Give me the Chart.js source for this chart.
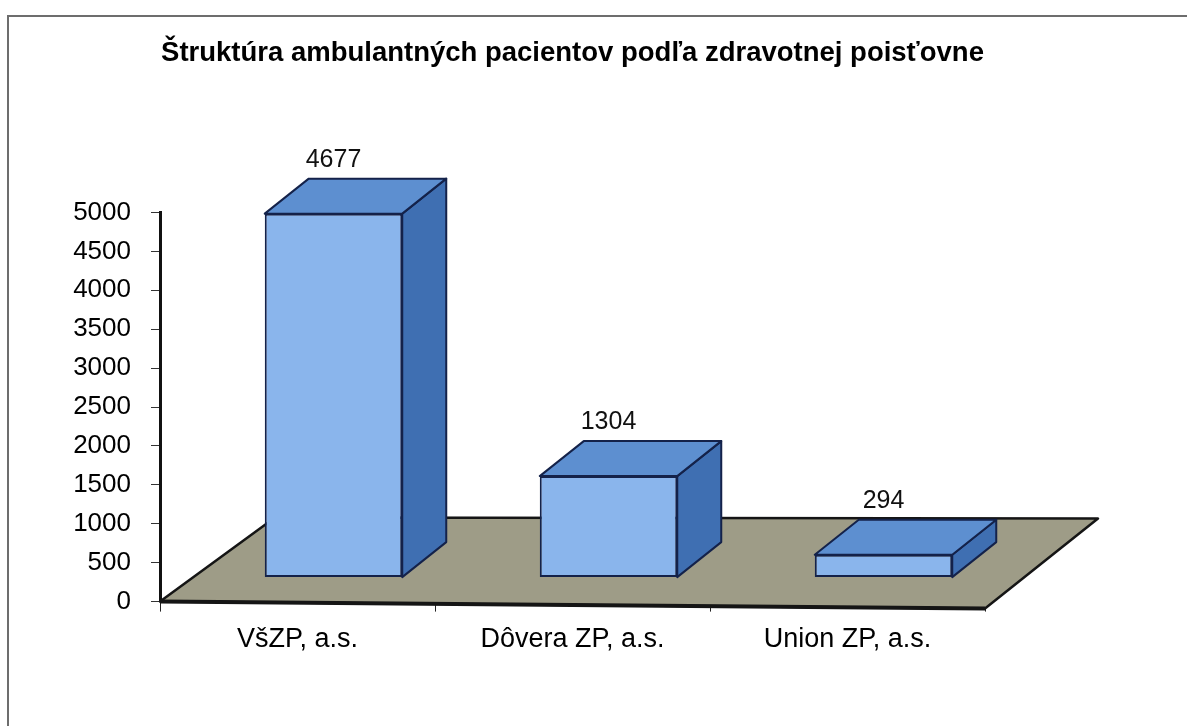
<!DOCTYPE html>
<html>
<head>
<meta charset="utf-8">
<script src="https://cdn.jsdelivr.net/npm/chart.js@4.4.1/dist/chart.umd.min.js"></script>
<style>
  html, body { margin: 0; padding: 0; background: #ffffff; }
  #wrap { width: 1187px; height: 726px; position: relative; }
</style>
</head>
<body>
<div id="wrap"><canvas id="c" width="1187" height="726"></canvas></div>
<script>
const categories = ['VšZP, a.s.', 'Dôvera ZP, a.s.', 'Union ZP, a.s.'];
const patients = [4677, 1304, 294];
const yTicks = [0, 500, 1000, 1500, 2000, 2500, 3000, 3500, 4000, 4500, 5000];
const chartTitle = 'Štruktúra ambulantných pacientov podľa zdravotnej poisťovne';

const SHIFT_X = 36, SHIFT_Y = -24;   // position of bars inside the floor depth
const DEPTH_X = 44, DEPTH_Y = -35;   // bar depth
const FLOOR_LX = 115, FLOOR_LY = -84; // floor depth (left edge)
const FLOOR_RX = 113, FLOOR_RY = -90; // floor depth (right edge)
const FLOOR_SLOPE = 7;

const frame3d = {
  id: 'frame3d',
  beforeDraw(chart) {
    const ctx = chart.ctx;
    ctx.save();
    ctx.fillStyle = '#ffffff';
    ctx.fillRect(0, 0, chart.width, chart.height);
    ctx.strokeStyle = '#6d6d6d';
    ctx.lineWidth = 2;
    ctx.beginPath();
    ctx.moveTo(8, chart.height);
    ctx.lineTo(8, 16);
    ctx.lineTo(chart.width, 16);
    ctx.stroke();
    ctx.restore();
  },
  beforeDatasetsDraw(chart) {
    const ctx = chart.ctx;
    const ca = chart.chartArea;
    const y0 = chart.scales.y.getPixelForValue(0);
    ctx.save();
    ctx.lineJoin = 'round';
    ctx.beginPath();
    ctx.moveTo(ca.left, y0);
    ctx.lineTo(ca.right, y0 + FLOOR_SLOPE);
    ctx.lineTo(ca.right + FLOOR_RX, y0 + FLOOR_SLOPE + FLOOR_RY);
    ctx.lineTo(ca.left + FLOOR_LX, y0 + FLOOR_LY);
    ctx.closePath();
    ctx.fillStyle = '#9e9c87';
    ctx.fill();
    ctx.strokeStyle = '#151515';
    ctx.lineWidth = 2.5;
    ctx.stroke();
    ctx.beginPath();
    ctx.moveTo(ca.left, y0);
    ctx.lineTo(ca.right, y0 + FLOOR_SLOPE);
    ctx.lineWidth = 4;
    ctx.stroke();
    ctx.restore();
    ctx.save();
    ctx.translate(SHIFT_X, SHIFT_Y);
  },
  afterDatasetsDraw(chart) {
    const ctx = chart.ctx;
    const meta = chart.getDatasetMeta(0);
    meta.data.forEach((bar, i) => {
      const p = bar.getProps(['x', 'y', 'base', 'width'], true);
      const xl = p.x - p.width / 2, xr = p.x + p.width / 2;
      const yt = p.y, yb = p.base;
      ctx.lineJoin = 'round';
      ctx.strokeStyle = '#14224a';
      ctx.lineWidth = 2;
      // side face
      ctx.beginPath();
      ctx.moveTo(xr, yt);
      ctx.lineTo(xr + DEPTH_X, yt + DEPTH_Y);
      ctx.lineTo(xr + DEPTH_X, yb + DEPTH_Y);
      ctx.lineTo(xr, yb);
      ctx.closePath();
      ctx.fillStyle = '#3f6fb2';
      ctx.fill();
      ctx.stroke();
      // top face
      ctx.beginPath();
      ctx.moveTo(xl, yt);
      ctx.lineTo(xl + DEPTH_X, yt + DEPTH_Y);
      ctx.lineTo(xr + DEPTH_X, yt + DEPTH_Y);
      ctx.lineTo(xr, yt);
      ctx.closePath();
      ctx.fillStyle = '#5d8fd0';
      ctx.fill();
      ctx.stroke();
      // value label
      ctx.fillStyle = '#111111';
      ctx.font = '25px "Liberation Sans", Arial, sans-serif';
      ctx.textAlign = 'center';
      ctx.textBaseline = 'middle';
      ctx.fillText(String(patients[i]), p.x, yt + DEPTH_Y - 19);
    });
    ctx.restore();
  }
};

new Chart(document.getElementById('c'), {
  type: 'bar',
  data: {
    labels: categories,
    datasets: [{
      data: patients,
      backgroundColor: '#8ab5ec',
      borderColor: '#14224a',
      borderWidth: 2,
      borderSkipped: false,
      barPercentage: 0.5,
      categoryPercentage: 1.0
    }]
  },
  options: {
    responsive: false,
    animation: false,
    devicePixelRatio: 1,
    layout: { padding: { left: 0, right: 202, top: 0, bottom: 58 } },
    plugins: {
      legend: { display: false },
      tooltip: { enabled: false },
      title: {
        display: true,
        text: chartTitle,
        fullSize: false,
        color: '#000000',
        font: { family: '"Liberation Sans", Arial, sans-serif', size: 27.5, weight: 'bold', lineHeight: 1.2 },
        padding: { top: 37, bottom: 142.5 }
      }
    },
    scales: {
      x: {
        offset: true,
        border: { display: false },
        grid: { display: true, drawOnChartArea: false, drawTicks: true, tickLength: 10, offset: true, color: '#222222', lineWidth: 1 },
        ticks: { color: '#000000', padding: 12, font: { family: '"Liberation Sans", Arial, sans-serif', size: 27 } }
      },
      y: {
        min: 0,
        max: 5000,
        afterFit(scale) { scale.width = 160; },
        afterBuildTicks(scale) { scale.ticks = yTicks.map(v => ({ value: v })); },
        border: { display: true, color: '#111111', width: 3 },
        grid: { display: true, drawOnChartArea: false, drawTicks: true, tickLength: 9, color: '#333333', lineWidth: 1 },
        ticks: {
          color: '#000000', padding: 20,
          font: { family: '"Liberation Sans", Arial, sans-serif', size: 26 },
          callback: (v) => String(v)
        }
      }
    }
  },
  plugins: [frame3d]
});
</script>
</body>
</html>
